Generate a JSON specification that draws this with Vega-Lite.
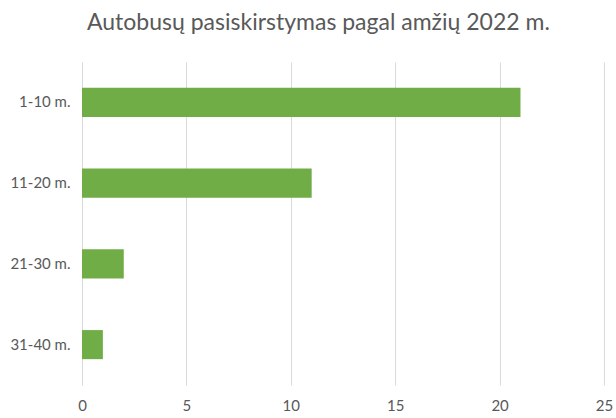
{
  "$schema": "https://vega.github.io/schema/vega-lite/v6.json",
  "autosize": {"type": "none"},
  "width": 522,
  "height": 323,
  "padding": {"left": 82, "top": 62, "right": 12, "bottom": 33},
  "background": "white",
  "title": {
    "text": "Autobusų pasiskirstymas pagal amžių 2022 m.",
    "font": "Lato",
    "fontSize": 23,
    "fontWeight": "normal",
    "color": "#595959",
    "anchor": "start",
    "frame": "group",
    "dx": 5,
    "offset": 27
  },
  "data": {
    "values": [
      {"amzius": "1-10 m.", "kiekis": 21},
      {"amzius": "11-20 m.", "kiekis": 11},
      {"amzius": "21-30 m.", "kiekis": 2},
      {"amzius": "31-40 m.", "kiekis": 1}
    ]
  },
  "mark": {"type": "bar", "color": "#70AD47"},
  "encoding": {
    "y": {
      "field": "amzius",
      "type": "nominal",
      "sort": null,
      "title": null,
      "scale": {"paddingInner": 0.64, "paddingOuter": 0.32},
      "axis": {
        "domain": false,
        "ticks": false,
        "labelFont": "Lato",
        "labelFontSize": 15,
        "labelColor": "#595959",
        "labelPadding": 12
      }
    },
    "x": {
      "field": "kiekis",
      "type": "quantitative",
      "title": null,
      "scale": {"domain": [0, 25], "nice": false},
      "axis": {
        "values": [0, 5, 10, 15, 20, 25],
        "domain": false,
        "ticks": false,
        "grid": true,
        "gridColor": "#d9d9d9",
        "gridWidth": 1,
        "labelFont": "Lato",
        "labelFontSize": 15,
        "labelColor": "#595959",
        "labelPadding": 13,
        "labelFlush": false
      }
    }
  },
  "config": {"view": {"stroke": null}}
}
